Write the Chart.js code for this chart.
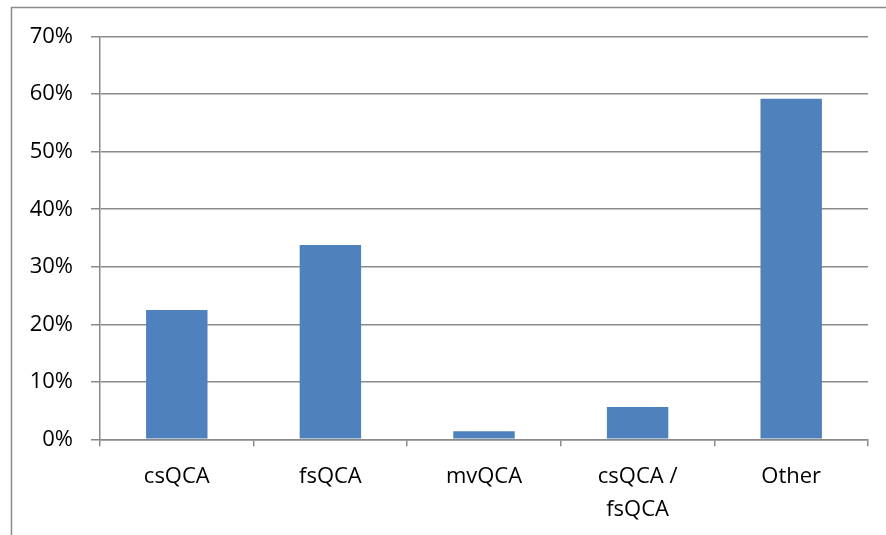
<!DOCTYPE html>
<html>
<head>
<meta charset="utf-8">
<script src="https://cdn.jsdelivr.net/npm/chart.js@4.4.1/dist/chart.umd.min.js"></script>
<style>
  html, body { margin: 0; padding: 0; background: #fff; }
  #wrap { width: 886px; height: 535px; position: relative; }
</style>
</head>
<body>
<div id="wrap"><canvas id="qcaChart"></canvas></div>
<script>
const categories = ["csQCA", "fsQCA", "mvQCA", ["csQCA /", "fsQCA"], "Other"];
const shares = [22.5, 33.8, 1.4, 5.6, 59.2];
const yTicks = [0, 10, 20, 30, 40, 50, 60, 70];

const gridGray = "#8a8a8a";

const outerBorder = {
    id: "outerBorder",
    beforeDraw(chart) {
        const ctx = chart.ctx;
        ctx.save();
        ctx.strokeStyle = gridGray;
        ctx.lineWidth = 1.5;
        ctx.strokeRect(11.5, 7.5, 1000, 1000);
        ctx.restore();
    }
};

const qcaChart = new Chart(
    document.getElementById("qcaChart"),
    {
        type: "bar",
        data: {
            labels: categories,
            datasets: [{
                data: shares,
                backgroundColor: "#4f81bd",
                borderWidth: 0,
                barPercentage: 0.4,
                categoryPercentage: 1.0
            }]
        },
        options: {
            responsive: true,
            maintainAspectRatio: false,
            animation: false,
            layout: {
                padding: { top: 36.7, right: 18, left: 0, bottom: 0 }
            },
            plugins: {
                legend: { display: false },
                tooltip: { enabled: false }
            },
            scales: {
                x: {
                    grid: {
                        drawOnChartArea: false,
                        offset: true,
                        tickLength: 7,
                        color: gridGray,
                        lineWidth: 1.5
                    },
                    border: { color: gridGray, width: 1.5 },
                    ticks: {
                        color: "#000",
                        padding: 14,
                        maxRotation: 0,
                        font: { family: "Open Sans", size: 22, lineHeight: 1.5 }
                    },
                    afterFit(scale) {
                        scale.height = 535 - 439.3;
                        scale.paddingLeft = 0;
                        scale.paddingRight = 0;
                    }
                },
                y: {
                    min: 0,
                    max: 70,
                    afterBuildTicks(scale) {
                        scale.ticks = yTicks.map(v => ({ value: v }));
                    },
                    grid: {
                        color: gridGray,
                        lineWidth: 1.5,
                        tickLength: 9
                    },
                    border: { color: gridGray, width: 1.5 },
                    ticks: {
                        color: "#000",
                        padding: 18,
                        font: { family: "Open Sans", size: 22 },
                        callback: v => v + "%"
                    },
                    afterFit(scale) {
                        scale.width = 100;
                        scale.paddingTop = 0;
                        scale.paddingBottom = 0;
                    }
                }
            }
        },
        plugins: [outerBorder]
    }
);
</script>
</body>
</html>
